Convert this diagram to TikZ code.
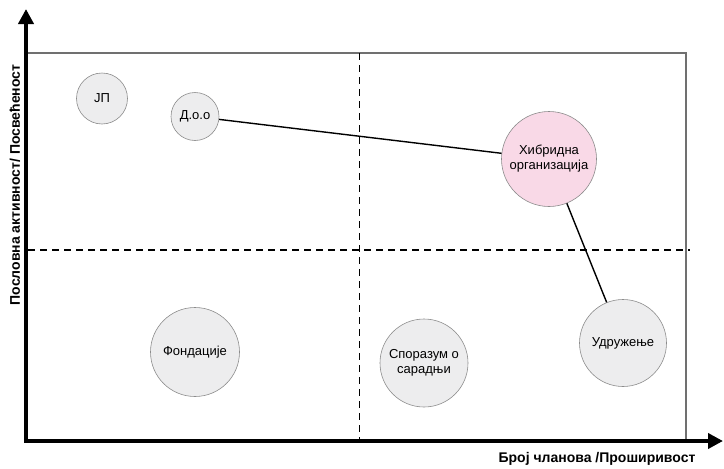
\documentclass[tikz,border=0pt]{standalone}
\usepackage{fontspec}
\setmainfont{Liberation Sans}
\usetikzlibrary{arrows.meta,shapes.geometric}
\definecolor{bubble}{HTML}{EDEDEE}
\definecolor{bubbleedge}{HTML}{8C8C8C}
\definecolor{hybridfill}{HTML}{F9D9E7}
\definecolor{framegray}{HTML}{707070}
\begin{document}
\begin{tikzpicture}[x=1pt,y=-1pt,
  bubblenode/.style={circle,draw=bubbleedge,fill=bubble,line width=0.6pt,
    inner sep=0pt,align=center,font=\fontsize{13}{15}\selectfont},
  hybridnode/.style={circle,draw=bubbleedge,fill=hybridfill,line width=0.6pt,
    inner sep=0pt,align=center,font=\fontsize{13}{15}\selectfont,
    minimum size=95pt},
  axisline/.style={line width=4pt,-{Triangle[length=15pt,width=15pt]}},
  divider/.style={line width=1.8pt,dash pattern=on 7pt off 5pt},
  link/.style={line width=1.4pt},
  axislabel/.style={font=\bfseries\fontsize{14}{16}\selectfont}]
\useasboundingbox (0,0) rectangle (724,469);

% outer frame of the chart area
\draw[framegray,line width=1.2pt] (26,53) rectangle (686,441);

% quadrant dividers
\coordinate (hl) at (28,250);
\coordinate (hr) at (690,250);
\coordinate (vt) at (359.5,53);
\coordinate (vb) at (359.5,441);
\draw[divider] (hl) -- (hr);
\draw[divider] (vt) -- (vb);

% axes
\coordinate (o) at (26,441);
\coordinate (ytop) at (26,9);
\coordinate (xend) at (723,441);
\coordinate (ostart) at (24,441);
\draw[axisline] (o) -- (ytop);
\draw[axisline] (ostart) -- (xend);

% organisation types
\node[bubblenode,minimum size=51pt] (jp) at (102,98.5) {ЈП};
\node[bubblenode,minimum size=48pt] (doo) at (195,116.5) {Д.о.о};
\node[hybridnode] (hyb) at (549,159) {Хибридна\\организација};
\node[bubblenode,minimum size=89pt] (fond) at (195,352) {Фондације};
\node[bubblenode,minimum size=88pt] (spor) at (424,363) {Споразум о\\сарадњи};
\node[bubblenode,minimum size=87pt] (udr) at (623,343) {Удружење};

% connections
\draw[link] (doo) -- (hyb);
\draw[link] (hyb) -- (udr);

% axis titles
\node[axislabel,rotate=90] (ylab) at (15,185) {Пословна активност/ Посвећеност};
\node[axislabel] (xlab) at (597,459) {Број чланова /Проширивост};
\end{tikzpicture}
\end{document}
